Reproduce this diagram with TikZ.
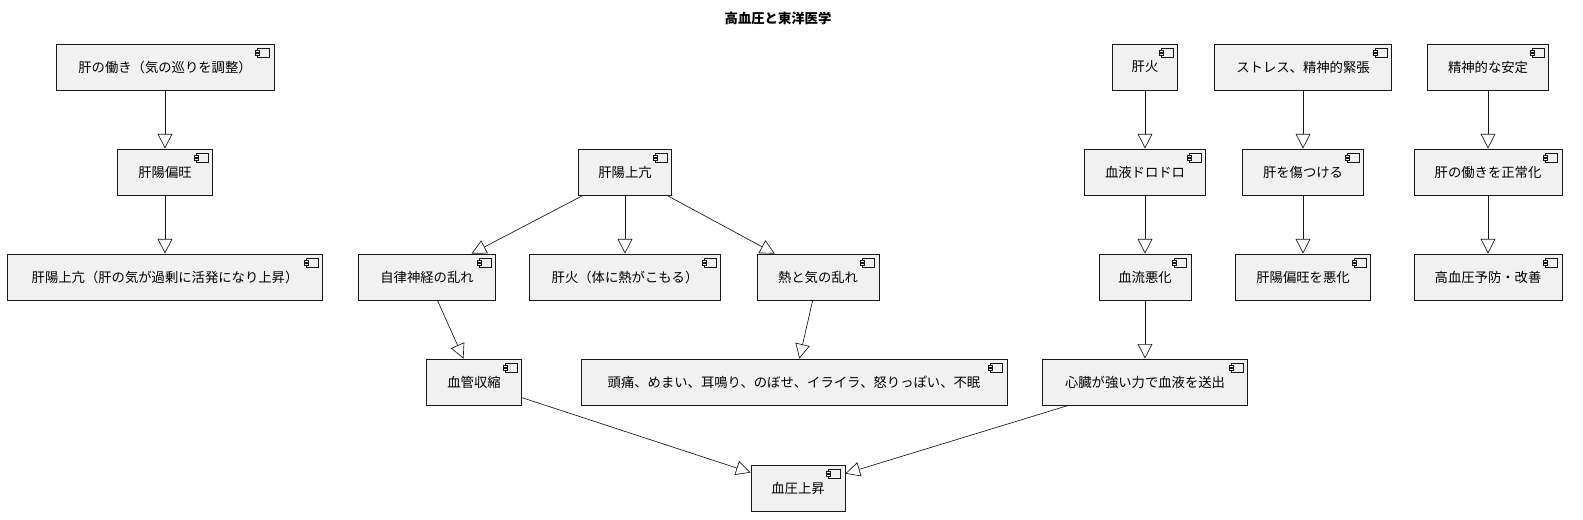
\documentclass[tikz,border=0pt]{standalone}
\usepackage{fontspec}
\setmainfont{Noto Sans CJK JP}
\usetikzlibrary{arrows.meta}
\definecolor{bx}{HTML}{F1F1F1}
\definecolor{ln}{HTML}{181818}
\tikzset{
 comp/.style={draw=ln,fill=bx,line width=0.5pt,minimum height=46*0.75pt,inner sep=0pt,font=\fontsize{10}{12}\selectfont,anchor=center},
 ar/.style={draw=ln,line width=0.5pt,-{Triangle[open,length=11pt,width=11pt]}}
}
\newcommand{\cmp}[5]{%
 \node[comp,minimum width=#4*0.75pt] (#1) at (#2,#3) {#5};
 \begin{scope}[shift={(#1.north east)}]
  \draw[ln,fill=bx,line width=0.4pt] (-17,5) rectangle (-5,14);
  \draw[ln,fill=bx,line width=0.4pt] (-19,7) rectangle (-15,9);
  \draw[ln,fill=bx,line width=0.4pt] (-19,10) rectangle (-15,12);
 \end{scope}}
\begin{document}
\begin{tikzpicture}[x=0.75pt,y=-0.75pt]
\useasboundingbox (0,0) rectangle (1583,520);
\node[font=\fontsize{10}{12}\selectfont\bfseries] (title) at (778,18) {高血圧と東洋医学};
\cmp{A}{165}{67}{218}{肝の働き（気の巡りを調整）}
\cmp{B}{1145}{67}{65}{肝火}
\cmp{C}{1303}{67}{177}{ストレス、精神的緊張}
\cmp{D}{1488}{67}{121}{精神的な安定}
\cmp{E}{165}{172}{95}{肝陽偏旺}
\cmp{F}{625}{172}{93}{肝陽上亢}
\cmp{G}{1145}{172}{121}{血液ドロドロ}
\cmp{H}{1303}{172}{121}{肝を傷つける}
\cmp{I}{1488}{172}{148}{肝の働きを正常化}
\cmp{J}{165}{277}{315}{肝陽上亢（肝の気が過剰に活発になり上昇）}
\cmp{K}{427}{277}{137}{自律神経の乱れ}
\cmp{L}{625}{277}{191}{肝火（体に熱がこもる）}
\cmp{M}{818}{277}{122}{熱と気の乱れ}
\cmp{N}{1145}{277}{92}{血流悪化}
\cmp{O}{1303}{277}{135}{肝陽偏旺を悪化}
\cmp{P}{1488}{277}{148}{高血圧予防・改善}
\cmp{Q}{474}{382}{95}{血管収縮}
\cmp{R}{794}{382}{426}{頭痛、めまい、耳鳴り、のぼせ、イライラ、怒りっぽい、不眠}
\cmp{S}{1145}{382}{205}{心臓が強い力で血液を送出}
\cmp{T}{798}{488}{94}{血圧上昇}
\draw[ar] (A) -- (E);
\draw[ar] (E) -- (J);
\draw[ar] (F.south west) ++(5,0) coordinate (f1) (f1) -- (K);
\draw[ar] (F) -- (L);
\draw[ar] (F.south east) ++(-5,0) coordinate (f2) (f2) -- (M);
\draw[ar] (K) -- (Q);
\draw[ar] (M) -- (R);
\draw[ar] (Q) -- (T);
\draw[ar] (S) -- (T);
\draw[ar] (B) -- (G);
\draw[ar] (G) -- (N);
\draw[ar] (N) -- (S);
\draw[ar] (C) -- (H);
\draw[ar] (H) -- (O);
\draw[ar] (D) -- (I);
\draw[ar] (I) -- (P);
\end{tikzpicture}
\end{document}
